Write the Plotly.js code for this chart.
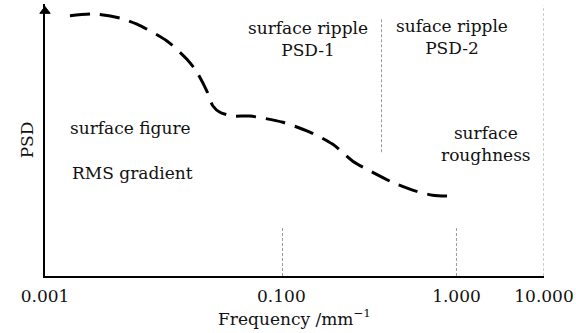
<!DOCTYPE html>
<html>
<head>
<meta charset="utf-8">
<script src="https://cdn.plot.ly/plotly-3.0.1.min.js"></script>
<style>html,body{margin:0;padding:0;background:#fff;}#chart{width:576px;height:333px;}</style>
</head>
<body>
<div id="chart"></div>
<script>
// Axis position units (schematic frequency axis): tick positions and labels
var tickPos = [0, 2.7, 4.7, 5.7];
var tickLabels = ['0.001', '0.100', '1.000', '10.000'];

// PSD curve (schematic), x in axis position units, y in relative PSD units (0-100)
var curveX = [0.285, 0.571, 0.856, 1.050, 1.393, 1.621, 1.735, 1.849, 1.918, 1.998, 2.146, 2.340, 2.717, 3.025, 3.288, 3.516, 3.744, 3.973, 4.247, 4.429, 4.680];
var curveY = [95.7, 96.3, 94.8, 92.6, 86.4, 79.7, 75.0, 68.0, 62.5, 60.2, 58.8, 58.8, 56.5, 52.9, 48.4, 42.2, 38.1, 34.4, 31.1, 29.7, 29.3];

// Vertical dashed separators: x position, bottom, top
var sepX = [3.844, 2.713, 4.7, 5.7];
var sepBottom = [45.5, 0, 0, 0];
var sepTop = [94.8, 18.3, 18.3, 99.4];

// Region labels
var labelText = ['surface ripple<br>PSD-1', 'suface ripple<br>PSD-2', 'surface<br>roughness', 'surface figure', 'RMS gradient'];
var labelX = [3.0, 4.646, 5.034, 0.982, 1.005];
var labelY = [87.3, 88.0, 48.4, 54.3, 37.8];

// y-axis arrow head (centre)
var arrowX = [0];
var arrowY = [97.4];

var FONT = 'DejaVu Serif';
var traces = [];
for (var i = 0; i < sepX.length; i++) {
  traces.push({
    x: [sepX[i], sepX[i]], y: [sepBottom[i], sepTop[i]],
    mode: 'lines', hoverinfo: 'skip', showlegend: false,
    line: {color: '#9a9a9a', width: 1, dash: '3px,2px'}
  });
}
traces.push({
  x: curveX, y: curveY, mode: 'lines', showlegend: false,
  line: {color: '#000', width: 3, dash: '20px,10px', shape: 'spline', smoothing: 0.7}
});
traces.push({
  x: arrowX, y: arrowY, mode: 'markers', showlegend: false, cliponaxis: false,
  marker: {symbol: 'triangle-up', size: 9, color: '#000', line: {width: 1, color: '#000'}}
});

var annotations = [];
for (var j = 0; j < labelText.length; j++) {
  annotations.push({
    x: labelX[j], y: labelY[j], xref: 'x', yref: 'y', text: labelText[j],
    showarrow: false, font: {family: FONT, size: 17, color: '#111'}, align: 'center'
  });
}

var layout = {
  width: 576, height: 333,
  margin: {l: 45, r: 32, t: 4, b: 57},
  paper_bgcolor: '#fff', plot_bgcolor: '#fff',
  showlegend: false,
  font: {family: FONT},
  xaxis: {
    range: [0, 5.7], tickmode: 'array', tickvals: tickPos, ticktext: tickLabels,
    showgrid: false, zeroline: false, showline: true, linecolor: '#000', linewidth: 2,
    ticks: '', ticklabelstandoff: 4,
    tickfont: {family: FONT, size: 17, color: '#111'},
    title: {text: 'Frequency /mm<sup>−1</sup>', font: {family: FONT, size: 17, color: '#111'}, standoff: 0},
    fixedrange: true
  },
  yaxis: {
    range: [0, 100], showgrid: false, zeroline: false, showline: true, linecolor: '#000', linewidth: 2,
    showticklabels: false, ticks: '',
    title: {text: 'PSD', font: {family: FONT, size: 17, color: '#111'}, standoff: 5},
    fixedrange: true
  },
  annotations: annotations
};

Plotly.newPlot('chart', traces, layout, {displayModeBar: false, staticPlot: true});
</script>
</body>
</html>
